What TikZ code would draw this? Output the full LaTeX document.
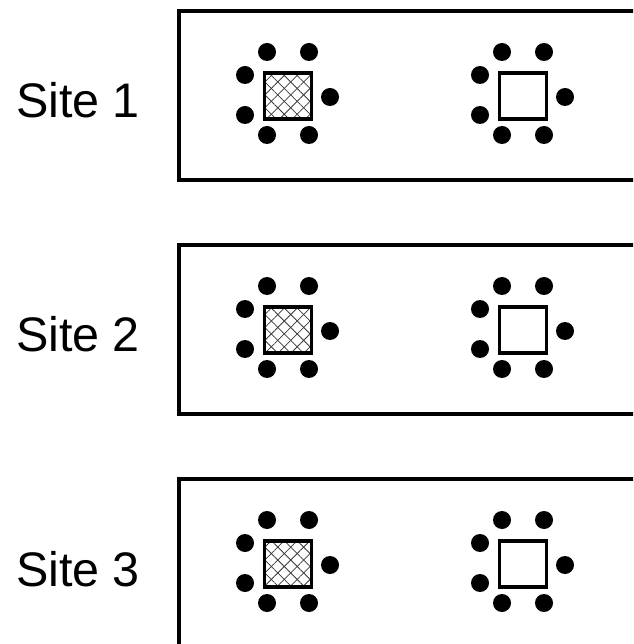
\documentclass[tikz,border=0pt]{standalone}
\usepackage{fontspec}
\setmainfont{Liberation Sans}
\usetikzlibrary{positioning,calc,patterns.meta}
\definecolor{ink}{HTML}{000000}
\definecolor{hatch}{HTML}{3A3A3A}
\tikzset{
  sitebox/.style={draw=ink, line width=2.1pt, anchor=north west, inner sep=0pt,
                  minimum width=9.5cm, minimum height=3.38cm},
  sitelbl/.style={font=\fontsize{27.6}{33}\selectfont, anchor=base, inner sep=0pt},
  tbl/.style={draw=ink, line width=1.8pt, fill=white, inner sep=0pt,
              minimum width=0.94cm, minimum height=0.92cm},
  tblx/.style={draw=ink, line width=1.8pt, inner sep=0pt,
               minimum width=0.94cm, minimum height=0.92cm,
               preaction={fill=white},
               preaction={pattern={Lines[angle=45,distance=5.2pt,line width=0.45pt]}, pattern color=hatch},
               preaction={pattern={Lines[angle=-45,distance=5.2pt,line width=0.45pt]}, pattern color=hatch}},
  seat/.style={circle, fill=ink, minimum size=0.36cm, inner sep=0pt},
}

\begin{document}
\begin{tikzpicture}[x=0.02cm, y=-0.02cm]
\useasboundingbox (0,0) rectangle (633,644);
\clip (0,0) rectangle (633,644);
% one strip per site, open on the right
\foreach \i/\ytop in {1/9, 2/243, 3/477}{
  \node[sitebox] (site\i) at (177,\ytop) {};
  \node[sitelbl] (lbl\i) at (78,\ytop+109) {Site \i};
  \node[tblx] (tblA\i) at (288,\ytop+87) {};
  \node[tbl] (tblB\i) at (523,\ytop+87) {};
  % seats round each table
  \foreach \t in {A,B}{
    \foreach \dx/\dy [count=\k] in {-21/-44, 21/-44, -43/-21, -43/19, 42/1, -21/39, 21/39}
      \node[seat] (seat\t\i-\k) at ($(tbl\t\i)+(\dx,\dy)$) {};
  }
}
\end{tikzpicture}
\end{document}
